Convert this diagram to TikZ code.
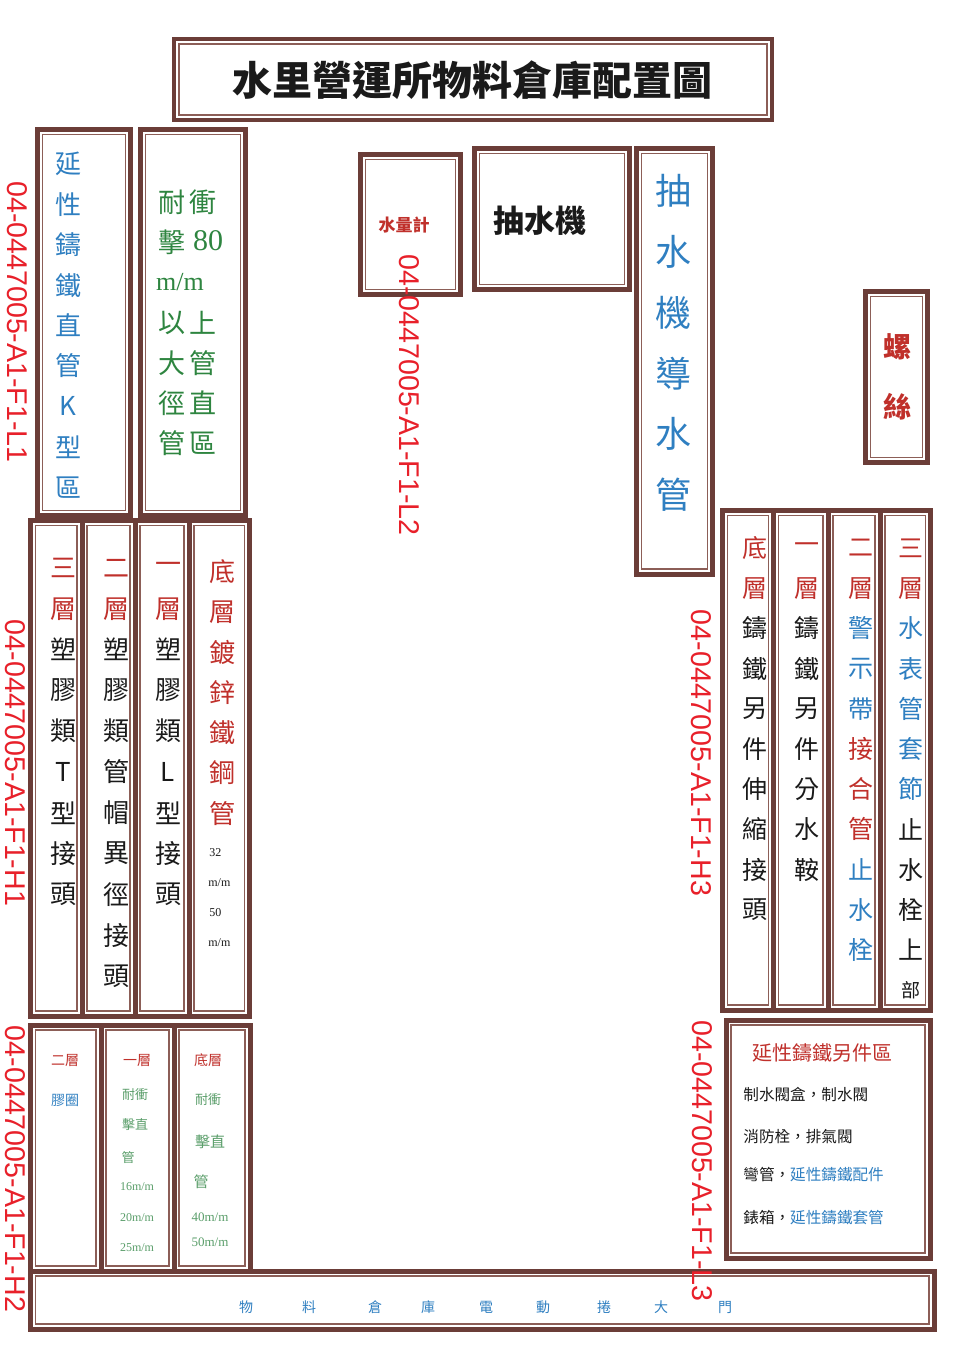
\documentclass[tikz,border=0pt]{standalone}
\usepackage{fontspec}
\newfontfamily\cjk{Noto Sans CJK TC}
\newfontfamily\lab{Liberation Sans}
\newfontfamily\lser{Liberation Serif}
\definecolor{frm}{HTML}{6B3D38}
\definecolor{frm2}{HTML}{8C5E57}
\definecolor{bl}{HTML}{2F7FC1}
\definecolor{gr}{HTML}{2E8540}
\definecolor{lgr}{HTML}{5A9E6A}
\definecolor{rd}{HTML}{C0302B}
\definecolor{bk}{HTML}{1A1A1A}
\definecolor{lred}{HTML}{E8202A}
\newcommand\fs[1]{\fontsize{#1pt}{#1pt}\selectfont}
\newcommand\dbox[4]{%
  \draw[thk] (#1,#2) rectangle (#3,#4);
  \draw[thn] ({#1+5},{#2+5}) rectangle ({#3-5},{#4-5});}
% name, x, y0, dy, size, list color/char
\newcommand\vcol[6]{%
  \foreach \cc/\ch [count=\i] in {#6}
    \node[chr,text=\cc,font=\cjk\fs{#5}] (#1-\i) at (#2,{#3+(\i-1)*#4}) {\ch};}
\begin{document}
\begin{tikzpicture}[x=0.5pt,y=-0.5pt,
  thk/.style={draw=frm,line width=2.5pt},
  thn/.style={draw=frm2,line width=0.6pt},
  chr/.style={inner sep=0pt,anchor=center},
  tag/.style={inner sep=0pt,text=lred,font=\lab\fs{14.3},rotate=-90},
  sm/.style={inner sep=0pt,font=\cjk\fs{7}},
]
\useasboundingbox (0,0) rectangle (958,1352);
\fill[white] (0,0) rectangle (958,1352);

% ---------- frames ----------
\draw[thk,line width=1.8pt] (174,39) rectangle (772,120);
\draw[thn] (179,44) rectangle (767,115);
\dbox{37.5}{129.5}{130.5}{515.5}
\dbox{140.5}{129.5}{245.5}{515.5}
\dbox{360.5}{154.5}{460.5}{294.5}
\dbox{474.5}{148.5}{629.5}{289.5}
\dbox{636.5}{148.5}{712.5}{574}
\dbox{865.5}{291.5}{927.5}{462.5}
\foreach \a/\b in {30.5/82,82/135,135/189,189/249.5}{\dbox{\a}{520.5}{\b}{1016}}
\foreach \a/\b in {30.5/101,101/174,174/250}{\dbox{\a}{1025}{\b}{1271}}
\dbox{30.5}{1271}{934}{1329}
\foreach \a/\b in {722.5/773.5,773.5/828,828/880,880/930.5}{\dbox{\a}{510.5}{\b}{1010}}
\dbox{726}{1020}{930}{1258}

% ---------- title ----------
\node[chr,font=\cjk\bfseries\fs{20},text=bk] (title) at (472,80) {水里營運所物料倉庫配置圖};

% ---------- upper left ----------
\vcol{ka}{68}{164}{40.4}{13}{bl/延,bl/性,bl/鑄,bl/鐵,bl/直,bl/管,bl/K,bl/型,bl/區}
\vcol{nl}{172}{202}{40.2}{13.5}{gr/耐,gr/擊,gr/{},gr/以,gr/大,gr/徑,gr/管}
\vcol{nr}{203}{202}{40.2}{13.5}{gr/衝,gr/{},gr/{},gr/上,gr/管,gr/直,gr/區}
\node[chr,text=gr,font=\lser\fs{15}] (n80) at (208,241) {80};
\node[chr,text=gr,font=\lser\fs{13}] (nmm) at (180,282) {m/m};

% ---------- top middle ----------
\node[chr,text=rd,font=\cjk\bfseries\fs{8.5}] (meter) at (404,225) {水量計};
\node[chr,text=bk,font=\cjk\bfseries\fs{15.5}] (pump) at (540,221) {抽水機};
\vcol{pp}{673}{191}{60.8}{18}{bl/抽,bl/水,bl/機,bl/導,bl/水,bl/管}
\vcol{sc}{897}{347}{60}{14}{rd/\bfseries 螺,rd/\bfseries 絲}

% ---------- lower left four columns ----------
\vcol{c1}{63}{568}{40.8}{13}{rd/三,rd/層,bk/塑,bk/膠,bk/類,bk/T,bk/型,bk/接,bk/頭}
\vcol{c2}{116}{568}{40.8}{13}{rd/二,rd/層,bk/塑,bk/膠,bk/類,bk/管,bk/帽,bk/異,bk/徑,bk/接,bk/頭}
\vcol{c3}{168}{568}{40.8}{13}{rd/一,rd/層,bk/塑,bk/膠,bk/類,bk/L,bk/型,bk/接,bk/頭}
\vcol{c4}{222}{572}{40.2}{13}{rd/底,rd/層,rd/鍍,rd/鋅,rd/鐵,rd/鋼,rd/管}
\node[inner sep=0pt,anchor=west,text=bk,font=\lser\fs{6}] (s32) at (209,853) {32};
\node[inner sep=0pt,anchor=west,text=bk,font=\lser\fs{6}] (smm1) at (208,883) {m/m};
\node[inner sep=0pt,anchor=west,text=bk,font=\lser\fs{6}] (s50) at (209,913) {50};
\node[inner sep=0pt,anchor=west,text=bk,font=\lser\fs{6}] (smm2) at (208,943) {m/m};

% ---------- lower left three boxes ----------
\node[sm,text=rd] (d1a) at (65,1060) {二層};
\node[sm,text=bl] (d1b) at (65,1100) {膠圈};
\node[sm,text=rd] (d2a) at (137,1060) {一層};
\node[sm,text=lgr,font=\cjk\fs{6.5}] (d2b) at (135,1095) {耐衝};
\node[sm,text=lgr,font=\cjk\fs{6.5}] (d2c) at (135,1125) {擊直};
\node[sm,text=lgr,font=\cjk\fs{6.5}] (d2d) at (128,1157) {管};
\node[sm,text=lgr,font=\lser\fs{6}] (d2e) at (137,1187) {16m/m};
\node[sm,text=lgr,font=\lser\fs{6}] (d2f) at (137,1218) {20m/m};
\node[sm,text=lgr,font=\lser\fs{6}] (d2g) at (137,1248) {25m/m};
\node[sm,text=rd] (d3a) at (208,1060) {底層};
\node[sm,text=lgr,font=\cjk\fs{6.5}] (d3b) at (208,1100) {耐衝};
\node[sm,text=lgr,font=\cjk\fs{7.5}] (d3c) at (210,1142) {擊直};
\node[sm,text=lgr,font=\cjk\fs{7.5}] (d3d) at (201,1182) {管};
\node[sm,text=lgr,font=\lser\fs{6.5}] (d3e) at (210,1217) {40m/m};
\node[sm,text=lgr,font=\lser\fs{6.5}] (d3f) at (210,1242) {50m/m};

% ---------- door ----------
\foreach \x/\ch [count=\i] in {246/物,309/料,375/倉,428/庫,486/電,543/動,604/捲,661/大,725/門}
  \node[sm,text=bl] (door-\i) at (\x,1307) {\ch};

% ---------- right four columns ----------
\vcol{r1}{755}{548}{40.2}{12.5}{rd/底,rd/層,bk/鑄,bk/鐵,bk/另,bk/件,bk/伸,bk/縮,bk/接,bk/頭}
\vcol{r2}{807}{548}{40.2}{12.5}{rd/一,rd/層,bk/鑄,bk/鐵,bk/另,bk/件,bk/分,bk/水,bk/鞍}
\vcol{r3}{861}{548}{40.2}{12.5}{rd/二,rd/層,bl/警,bl/示,bl/帶,rd/接,rd/合,rd/管,bl/止,bl/水,bl/栓}
\vcol{r4}{911}{548}{40.2}{12.5}{rd/三,rd/層,bl/水,bl/表,bl/管,bl/套,bl/節,bk/止,bk/水,bk/栓,bk/上}
\node[chr,text=bk,font=\cjk\fs{9.5}] (r4-12) at (911,990) {部};

% ---------- right lower box ----------
\node[chr,text=rd,font=\cjk\fs{10}] (ftitle) at (822,1053) {延性鑄鐵另件區};
\node[inner sep=0pt,anchor=west,text=bk,font=\cjk\fs{7.8}] (f1) at (743,1095) {制水閥盒，制水閥};
\node[inner sep=0pt,anchor=west,text=bk,font=\cjk\fs{7.8}] (f2) at (743,1137) {消防栓，排氣閥};
\node[inner sep=0pt,anchor=west,text=bk,font=\cjk\fs{7.8}] (f3) at (743,1175) {彎管，\textcolor{bl}{延性鑄鐵配件}};
\node[inner sep=0pt,anchor=west,text=bk,font=\cjk\fs{7.8}] (f4) at (743,1218) {錶箱，\textcolor{bl}{延性鑄鐵套管}};

% ---------- red location tags ----------
\node[tag] (L1) at (17,322) {04-0447005-A1-F1-L1};
\node[tag] (L2) at (409,395) {04-0447005-A1-F1-L2};
\node[tag] (H1) at (15,763) {04-0447005-A1-F1-H1};
\node[tag] (H3) at (701,753) {04-0447005-A1-F1-H3};
\node[tag] (H2) at (15,1169) {04-0447005-A1-F1-H2};
\node[tag] (L3) at (702,1161) {04-0447005-A1-F1-L3};
\end{tikzpicture}
\end{document}
